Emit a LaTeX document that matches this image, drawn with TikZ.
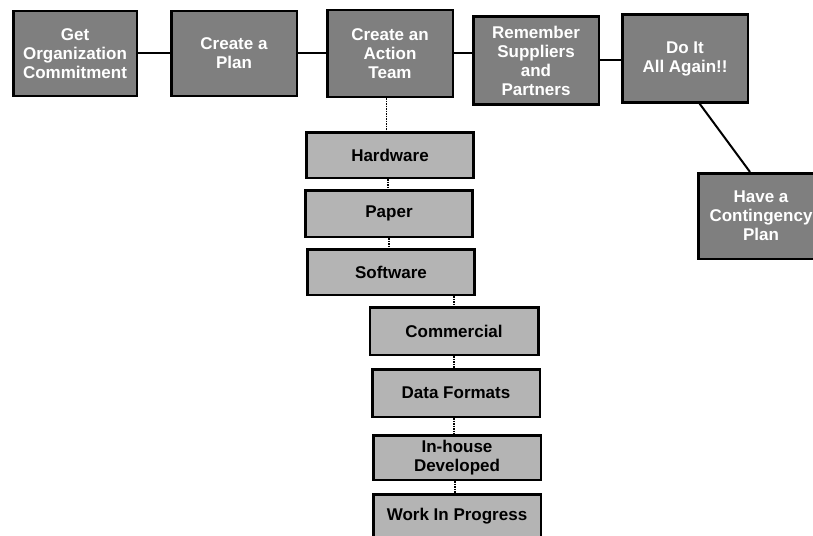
\documentclass[tikz,border=0pt]{standalone}
\usepackage{fontspec}
\setmainfont{Liberation Sans}
\usetikzlibrary{positioning}
\definecolor{TopCol}{HTML}{7F7F7F}
\definecolor{SubCol}{HTML}{B4B4B4}
\tikzset{
  plain box/.style={
    shape = rectangle,
    draw,
    line width=2.5pt,
    align=center,
    inner sep=1pt,
    font=\bfseries\fontsize{17}{19}\selectfont,
    },
  top box/.style ={
    plain box,
    fill=TopCol,
    text=white,
    minimum width=125.5pt,
    minimum height=85pt,
    },
  sub box/.style ={
    plain box,
    fill=SubCol,
    minimum width=167pt,
    minimum height=45.5pt,
    },
}
\tikzstyle{MainLink} = [line width=2pt]
\tikzstyle{SubLink} = [line width=1.5pt,densely dotted]

\begin{document}
\begin{tikzpicture}[x=1pt,y=1pt]
    \useasboundingbox (0,0) rectangle (813,-535);

    \node[top box,minimum width=123.5pt] (get) at (75,-53.5) {Get\\Organization\\Commitment};
    \node[top box,right=32pt of get] (plan) {Create a\\Plan};
    \node[top box,right=28pt of plan,minimum height=86.5pt] (team) {Create an\\Action\\Team};
    \node[top box,right=18pt of team,yshift=-7pt,minimum height=87.5pt] (remember)
        {Remember\\Suppliers\\and\\Partners};
    \node[top box,right=21pt of remember,yshift=2pt,minimum height=87.5pt] (again)
        {Do It\\All Again!!};
    \node[top box,minimum height=85.5pt] (contingency) at (761,-216)
        {Have a\\Contingency\\Plan};

    \node[sub box,below=33pt of team] (hardware) {Hardware};
    \node[sub box,below=10pt of hardware,xshift=-1pt,minimum height=46.5pt] (paper) {Paper};
    \node[sub box,below=10pt of paper,xshift=2pt] (software) {Software};
    \node[sub box,below=10pt of software,xshift=63pt,minimum width=168.5pt,
        minimum height=47.5pt] (commercial) {Commercial};
    \node[sub box,below=12pt of commercial,xshift=2pt,minimum width=167.5pt,
        minimum height=47.5pt] (formats) {Data Formats};
    \node[sub box,below=16pt of formats,xshift=1pt,minimum width=167.5pt,
        minimum height=44.5pt] (inhouse) {In-house\\Developed};
    \node[sub box,below=12pt of inhouse,minimum width=167.5pt,
        minimum height=43.5pt] (progress) {Work In Progress};

    % Steps

    \draw[MainLink] (get) -- (plan);
    \draw[MainLink] (plan) -- (team);
    \draw[MainLink] (team.east) -- (team.east -| remember.west);
    \draw[MainLink] (remember.east) -- (remember.east -| again.west);
    \draw[MainLink] ([xshift=14.5pt]again.south) -- ([xshift=-11pt]contingency.north);

    % Items

    \draw[SubLink] ([xshift=-3.5pt]team.south) -- ([xshift=-3.5pt]team.south |- hardware.north);
    \draw[SubLink] ([xshift=-2pt]hardware.south) -- ([xshift=-2pt]hardware.south |- paper.north);
    \draw[SubLink] (paper.south) -- (paper.south |- software.north);
    \draw[SubLink] (commercial.north |- software.south) -- (commercial.north);
    \draw[SubLink] (commercial.south) -- (commercial.south |- formats.north);
    \draw[SubLink] ([xshift=-2pt]formats.south) -- ([xshift=-2pt]formats.south |- inhouse.north);
    \draw[SubLink] ([xshift=-2pt]inhouse.south) -- ([xshift=-2pt]inhouse.south |- progress.north);

\end{tikzpicture}
\end{document}
